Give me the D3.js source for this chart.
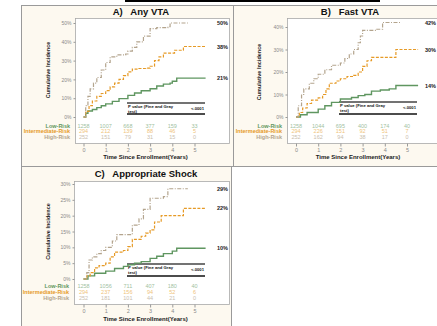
<!DOCTYPE html>
<meta charset="utf-8">
<style>
  body { margin: 0; background: #fff; }
  svg text { font-family: "Liberation Sans", Arial, sans-serif; }
  .axis text { fill: #8a8a8a; font-size: 5px; }
  .axis line { stroke: #999; }
  .axis path { display: none; }
</style>
<svg width="437" height="326"></svg>
<script src="https://d3js.org/d3.v7.min.js"></script>
<script>

var years = [0, 1, 2, 3, 4, 5];
var groups = ["Low-Risk", "Intermediate-Risk", "High-Risk"];
var groupColors = ["#5f9660", "#e69a26", "#b3a48d"];
var numColors = ["#9fbf9f", "#efc37a", "#c9beae"];

// at-risk counts per panel (low, intermediate, high)
var riskA = [[1258, 1007, 668, 377, 159, 33], [294, 212, 139, 88, 46, 5], [252, 151, 79, 31, 15, 0]];
var riskB = [[1258, 1044, 695, 400, 174, 40], [294, 226, 151, 92, 51, 7], [252, 162, 94, 38, 17, 0]];
var riskC = [[1258, 1056, 711, 407, 180, 40], [294, 237, 156, 94, 52, 6], [252, 181, 101, 44, 21, 0]];

// cumulative incidence curves [years, percent]
var lowA = [[0,0],[0.1,2],[0.2,3.2],[0.4,4],[0.6,5],[0.8,6],[1,7],[1.3,8.3],[1.6,9.8],[2,11.5],[2.3,12.8],[2.6,14],[3,15],[3.3,16.5],[3.6,17.5],[3.9,18],[4,19],[4.2,20.7],[5.5,20.7]];
var midA = [[0,0],[0.1,3],[0.25,6],[0.4,8.5],[0.6,11],[0.8,12.5],[1,14],[1.2,16],[1.4,18],[1.6,20],[1.8,22],[2,24],[2.2,25.5],[2.5,25.8],[2.8,26],[3,27],[3.2,30],[3.4,32],[3.6,34],[3.9,34],[4.1,35.5],[4.4,35.5],[4.5,37.5],[5.5,37.5]];
var highA = [[0,0],[0.1,6],[0.2,11],[0.3,15],[0.45,18],[0.6,21],[0.8,25],[1,29],[1.2,32],[1.5,33],[1.9,33.5],[2,35],[2.2,37],[2.4,40],[2.7,43],[3,47],[3.3,47.5],[3.8,48],[3.9,50],[4.7,50]];

var lowB = [[0,0],[0.2,1],[0.5,2],[1,3.5],[1.3,5],[1.6,6.5],[2,8],[2.5,8.7],[2.8,9.5],[3.1,10],[3.4,11.5],[3.8,12],[4.2,12.5],[4.5,14],[5.5,14]];
var midB = [[0,0],[0.15,2],[0.3,4],[0.5,6],[0.7,7.5],[1,8.5],[1.2,10],[1.35,12.5],[1.5,15],[1.8,16],[2,17],[2.3,18],[2.6,18.5],[2.8,20],[3,22.5],[3.2,25],[3.4,26.5],[4.4,26.5],[4.5,30],[5.5,30]];
var highB = [[0,0],[0.1,5],[0.25,10],[0.35,12.5],[0.6,15],[0.8,17],[1,19],[1.3,21],[1.6,23],[2,24],[2.2,26],[2.4,28],[2.6,30],[2.8,33],[2.9,36],[3,38.5],[3.3,38.5],[3.6,39],[3.9,42],[4.7,42]];

var lowC = [[0,0],[0.2,1],[0.5,1.8],[1,2.5],[1.4,3.3],[1.8,4],[2,4.5],[2.3,5],[2.6,5.5],[3,6.5],[3.3,7.2],[3.6,8],[4,8.8],[4.2,9.7],[5.5,9.7]];
var midC = [[0,0],[0.15,1],[0.3,2],[0.5,3.5],[0.7,4.2],[1,5],[1.2,7],[1.4,8.5],[1.8,9],[2,10.2],[2.2,12.5],[2.6,13.5],[2.8,14.5],[3,15.5],[3.2,18],[3.5,20],[4.4,20],[4.5,22.3],[5.5,22.3]];
var highC = [[0,0],[0.15,2],[0.25,6],[0.4,7],[0.6,8],[0.8,9],[1,10],[1.3,12],[1.5,14],[2,14],[2.2,17],[2.5,19],[2.7,22],[2.9,22],[3,25.5],[3.6,26],[3.8,28.5],[4.7,28.5]];

var endLabelsA = ["21%", "38%", "50%"];
var endLabelsB = ["14%", "30%", "42%"];
var endLabelsC = ["10%", "22%", "29%"];

var svg = d3.select("svg");

// black rule at the very top
svg.append("line").attr("x1", 125).attr("x2", 380).attr("y1", 1).attr("y2", 1)
    .attr("stroke", "#000").attr("stroke-width", 2);

var panels = [
    {title: "A)   Any VTA", box: [21, 5, 212, 161], inner: [75, 18, 154, 125], x0: 83.5, y0: 117, yTop: 23,
     yMax: 50, yStep: 10, titleX: 141, titleY: 15, rows: [127.5, 133, 138.5], tickY: 150, axisY: 159,
     ylabX: 50, pv: [127, 205, 103, 114], endX: 217, risk: riskA, curves: [lowA, midA, highA], ends: endLabelsA},
    {title: "B)   Fast VTA", box: [233, 5, 215, 161], inner: [287, 18, 165, 125], x0: 296, y0: 117, yTop: 27,
     yMax: 40, yStep: 10, titleX: 350, titleY: 15, rows: [127.5, 133, 138.5], tickY: 150, axisY: 159,
     ylabX: 261, pv: [339, 417, 102, 114], endX: 425, risk: riskB, curves: [lowB, midB, highB], ends: endLabelsB},
    {title: "C)   Appropriate Shock", box: [21, 166, 210, 170], inner: [74, 181, 155, 123], x0: 83.5, y0: 279, yTop: 184,
     yMax: 30, yStep: 5, titleX: 146, titleY: 177, rows: [288, 294, 300], tickY: 311, axisY: 321,
     ylabX: 50, pv: [127, 205, 264, 276], endX: 217, risk: riskC, curves: [lowC, midC, highC], ends: endLabelsC}
];

var dashes = [null, "3,1.5", "4,1.5,1,1.5"];

panels.forEach(function(p) {
    var g = svg.append("g");

    g.append("rect").attr("x", p.box[0] + 0.5).attr("y", p.box[1] + 0.5)
        .attr("width", p.box[2]).attr("height", p.box[3])
        .attr("fill", "#fdf9f0").attr("stroke", "#9a9a9a").attr("stroke-width", 1);

    g.append("rect").attr("x", p.inner[0] + 0.5).attr("y", p.inner[1] + 0.5)
        .attr("width", p.inner[2]).attr("height", p.inner[3])
        .attr("fill", "#fff").attr("stroke", "#a8a8a8").attr("stroke-width", 0.8);

    g.append("text").attr("x", p.titleX).attr("y", p.titleY)
        .attr("text-anchor", "middle").attr("font-size", 9.5).attr("font-weight", "bold")
        .attr("font-family", "'Open Sans', sans-serif")
        .attr("fill", "#111").style("white-space", "pre").text(p.title);

    var x = d3.scaleLinear().domain([0, 5]).range([p.x0, p.x0 + 5 * 22.2]);
    var y = d3.scaleLinear().domain([0, p.yMax]).range([p.y0, p.yTop]);

    g.append("g").attr("class", "axis")
        .attr("transform", "translate(" + (p.inner[0] + 0.5) + ",0)")
        .call(d3.axisLeft(y).tickValues(d3.range(0, p.yMax + 0.1, p.yStep))
            .tickSize(2).tickPadding(2).tickFormat(function(d) { return d + "%"; }));

    g.append("g").attr("class", "axis xaxis")
        .attr("transform", "translate(0," + (p.inner[1] + p.inner[3] + 0.5) + ")")
        .call(d3.axisBottom(x).tickValues(years).tickSize(3).tickPadding(2).tickFormat(d3.format("d")))
        .selectAll("text").style("font-size", "5.5px");

    g.append("text").attr("x", p.x0 + 62).attr("y", p.axisY)
        .attr("text-anchor", "middle").attr("font-size", 6).attr("font-weight", "bold")
        .attr("fill", "#222").text("Time Since Enrollment(Years)");

    g.append("text").attr("transform", "translate(" + p.ylabX + "," + ((p.y0 + p.yTop) / 2) + ") rotate(-90)")
        .attr("text-anchor", "middle").attr("font-size", 5.5).attr("font-weight", "bold")
        .attr("fill", "#222").text("Cumulative Incidence");

    // at-risk table
    groups.forEach(function(name, i) {
        g.append("text").attr("x", p.inner[0] - 5).attr("y", p.rows[i])
            .attr("text-anchor", "end").attr("font-size", 5.5).attr("font-weight", "bold")
            .attr("fill", groupColors[i]).text(name);
        g.selectAll(null).data(p.risk[i]).enter().append("text")
            .attr("x", function(d, j) { return x(years[j]); })
            .attr("y", p.rows[i])
            .attr("text-anchor", "middle").attr("font-size", 5.5)
            .attr("fill", numColors[i]).text(function(d) { return d; });
    });

    // p-value box
    g.append("line").attr("x1", p.pv[0]).attr("x2", p.pv[1]).attr("y1", p.pv[2]).attr("y2", p.pv[2])
        .attr("stroke", "#444").attr("stroke-width", 1.6);
    g.append("line").attr("x1", p.pv[0]).attr("x2", p.pv[1]).attr("y1", p.pv[3]).attr("y2", p.pv[3])
        .attr("stroke", "#111").attr("stroke-width", 1.6);
    g.append("text").attr("x", p.pv[0] + 1).attr("y", p.pv[2] + 4.5)
        .attr("font-size", 4.2).attr("font-weight", "bold").attr("fill", "#111").text("P value (Fine and Gray");
    g.append("text").attr("x", p.pv[0] + 1).attr("y", p.pv[2] + 9.5)
        .attr("font-size", 4.2).attr("font-weight", "bold").attr("fill", "#111").text("test)");
    g.append("text").attr("x", p.pv[1] - 1).attr("y", p.pv[2] + 7)
        .attr("text-anchor", "end").attr("font-size", 4.2).attr("font-weight", "bold")
        .attr("fill", "#111").text("<.0001");

    var line = d3.line().curve(d3.curveStepAfter)
        .x(function(d) { return x(d[0]); })
        .y(function(d) { return y(d[1]); });

    p.curves.forEach(function(c, i) {
        g.append("path").datum(c).attr("d", line)
            .attr("fill", "none").attr("stroke", groupColors[i])
            .attr("stroke-width", i === 0 ? 1.4 : 1.2)
            .attr("stroke-dasharray", dashes[i]);
        var last = c[c.length - 1];
        g.append("text").attr("x", p.endX).attr("y", y(last[1]) + 2)
            .attr("font-size", 5.5).attr("font-weight", "bold").attr("fill", "#222").text(p.ends[i]);
    });
});

</script>
